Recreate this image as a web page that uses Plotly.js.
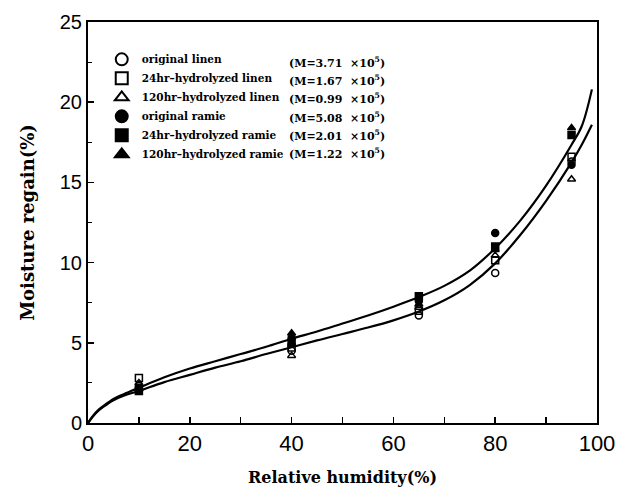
<!DOCTYPE html>
<html>
<head>
<meta charset="utf-8">
<script src="https://cdn.plot.ly/plotly-3.0.1.min.js"></script>
<style>html,body{margin:0;padding:0;background:#fff;}#chart{width:620px;height:494px;}</style>
</head>
<body>
<div id="chart"></div>
<script>
// Measurement RH levels (%)
const rh = [10, 40, 65, 80, 95];

// Moisture regain (%) per sample
const originalLinen   = [2.3, 4.5, 6.7, 9.35, 16.3];
const linen24         = [2.8, 4.7, 7.0, 10.15, 16.6];
const linen120        = [2.5, 4.2, 7.2, 10.45, 15.2];
const originalRamie   = [2.2, 5.3, 7.6, 11.85, 16.1];
const ramie24         = [2.0, 5.0, 7.9, 11.0, 17.95];
const ramie120        = [2.1, 5.6, 7.4, 10.8, 18.4];

const seriesNames = ["original linen", "24hr\u2013hydrolyzed linen", "120hr\u2013hydrolyzed linen",
                     "original ramie", "24hr\u2013hydrolyzed ramie", "120hr\u2013hydrolyzed ramie"];
const mValues = ["3.71", "1.67", "0.99", "5.08", "2.01", "1.22"];

// Fitted isotherm curves
const curveX     = [0, 1, 2, 3, 5, 7, 10, 15, 20, 25, 30, 35, 40, 45, 50, 55, 60, 65, 70, 75, 80, 85, 90, 95, 97, 99];
const upperCurve = [0, 0.45, 0.8, 1.05, 1.5, 1.8, 2.2, 2.85, 3.4, 3.85, 4.3, 4.75, 5.25, 5.7, 6.2, 6.7, 7.25, 7.85, 8.55, 9.5, 10.9, 12.65, 14.8, 17.35, 18.5, 20.8];
const lowerCurve = [0, 0.42, 0.75, 1.0, 1.42, 1.7, 2.0, 2.55, 3.0, 3.45, 3.85, 4.3, 4.72, 5.15, 5.55, 5.95, 6.4, 6.95, 7.65, 8.6, 9.95, 11.75, 13.85, 16.25, 17.35, 18.6];

const xTicks = [0, 20, 40, 60, 80, 100];
const yTicks = [0, 5, 10, 15, 20, 25];

const symbols = ["circle-open", "square-open", "triangle-up-open", "circle", "square", "triangle-up"];
const allY = [originalLinen, linen24, linen120, originalRamie, ramie24, ramie120];

const traces = [];
traces.push({x: curveX, y: upperCurve, mode: "lines", line: {color: "#000", width: 2.2, shape: "spline", smoothing: 1}, showlegend: false, hoverinfo: "skip"});
traces.push({x: curveX, y: lowerCurve, mode: "lines", line: {color: "#000", width: 2.2, shape: "spline", smoothing: 1}, showlegend: false, hoverinfo: "skip"});
for (let i = 0; i < 6; i++) {
  traces.push({
    x: rh, y: allY[i], mode: "markers", name: seriesNames[i],
    marker: {symbol: symbols[i], size: 7, color: "#000", line: {color: "#000", width: 1.5}}
  });
}

const serif = "DejaVu Serif, Liberation Serif, serif";
const sans = "Liberation Sans, Arial, sans-serif";

const rowPx = [62, 80.3, 98.6, 117, 135.3, 153.6];
const annotations = mValues.map((m, i) => ({
  xref: "paper", yref: "paper", x: 0.391, xanchor: "left",
  y: (423 - rowPx[i]) / 401, yanchor: "middle",
  text: "(M=" + m + "  \u00d710<sup>5</sup>)",
  showarrow: false, font: {family: serif, size: 11, color: "#000", weight: "bold"}
}));

const layout = {
  width: 620, height: 494,
  margin: {l: 88, r: 23, t: 22, b: 71},
  paper_bgcolor: "#fff", plot_bgcolor: "#fff",
  showlegend: true,
  legend: {x: 0.027, y: 0.943, xanchor: "left", yanchor: "top", bgcolor: "rgba(0,0,0,0)",
           font: {family: serif, size: 10.5, color: "#000", weight: "bold"}, itemwidth: 30, tracegroupgap: 0,
           itemsizing: "constant"},
  xaxis: {
    range: [0, 100], tickvals: xTicks, ticktext: xTicks.map(String),
    ticks: "inside", ticklen: 6, tickwidth: 1.5, tickcolor: "#000",
    showline: true, linecolor: "#000", linewidth: 2, mirror: true,
    showgrid: false, zeroline: false,
    minor: {dtick: 10, tick0: 0, ticks: "inside", ticklen: 6, tickwidth: 1.5, tickcolor: "#000", showgrid: false},
    tickfont: {family: sans, size: 22, color: "#000"},
    title: {text: "Relative humidity(%)", font: {family: serif, size: 16, color: "#000", weight: "bold"}, standoff: 16}
  },
  yaxis: {
    range: [0, 25], tickvals: yTicks, ticktext: yTicks.map(String),
    ticks: "inside", ticklen: 6, tickwidth: 1.5, tickcolor: "#000",
    showline: true, linecolor: "#000", linewidth: 2, mirror: true,
    showgrid: false, zeroline: false,
    minor: {dtick: 2.5, tick0: 0, ticks: "inside", ticklen: 4, tickwidth: 1, tickcolor: "#000", showgrid: false},
    tickfont: {family: sans, size: 20, color: "#000"},
    title: {text: "Moisture regain(%)", font: {family: serif, size: 18, color: "#000", weight: "bold"}, standoff: 20}
  },
  annotations: annotations
};

Plotly.newPlot("chart", traces, layout, {displayModeBar: false, staticPlot: true});
</script>
</body>
</html>
